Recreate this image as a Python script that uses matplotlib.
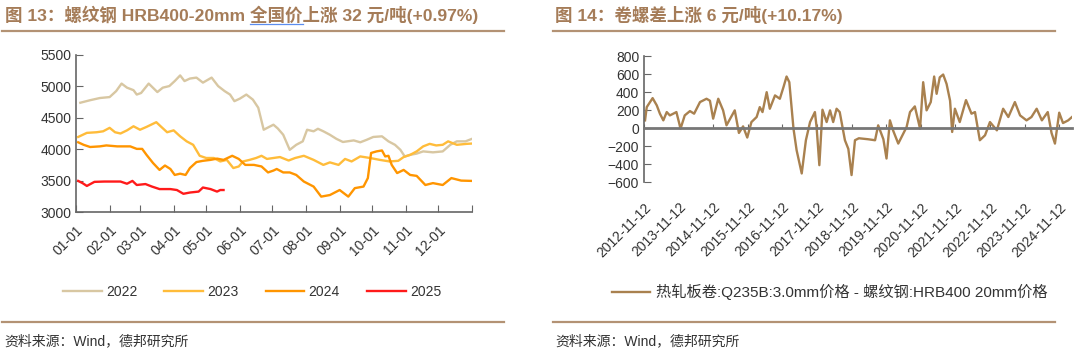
import numpy as np
import pandas as pd
import matplotlib
matplotlib.use('Agg')
import matplotlib.pyplot as plt
from matplotlib.lines import Line2D

plt.rcParams['font.family'] = ['Liberation Sans', 'Noto Sans CJK SC']

# 图13: 螺纹钢价格，按年内第几天
d2022 = [4, 13, 22, 31, 37, 42, 47, 53, 56, 60, 67, 75, 80, 86, 91, 96, 100, 105, 111, 117, 125, 131, 137, 142,
         146, 151, 157, 163, 168, 173, 178, 182, 186, 191, 197, 203, 209, 213, 219, 223, 228, 234, 240, 246, 256,
         262, 268, 274, 282, 288, 294, 299, 303, 308, 314, 320, 329, 338, 345, 351, 359, 365]
v2022 = [4740, 4780, 4815, 4830, 4925, 5045, 4980, 4940, 4870, 4895, 5045, 4910, 4980, 5005, 5085, 5175, 5085, 5125,
         5140, 5060, 5140, 5005, 4925, 4870, 4765, 4805, 4870, 4790, 4660, 4310, 4355, 4390, 4330, 4230, 3990, 4070,
         4125, 4310, 4285, 4325, 4285, 4230, 4165, 4115, 4140, 4110, 4150, 4195, 4205, 4125, 4070, 3990, 3885, 3910,
         3930, 3965, 3950, 3965, 4070, 4125, 4125, 4165]
d2023 = [2, 10, 19, 25, 31, 36, 41, 47, 53, 59, 65, 74, 78, 84, 90, 96, 102, 108, 114, 120, 127, 133, 139, 145, 150,
         154, 160, 166, 171, 176, 182, 188, 196, 202, 210, 219, 228, 234, 242, 248, 254, 262, 271, 280, 289, 297, 302,
         308, 314, 320, 326, 332, 338, 343, 351, 360, 365]
v2023 = [4195, 4260, 4270, 4285, 4340, 4270, 4250, 4300, 4365, 4310, 4355, 4430, 4365, 4270, 4300, 4205, 4125, 4070,
         3895, 3860, 3860, 3805, 3830, 3700, 3725, 3805, 3830, 3860, 3895, 3845, 3860, 3875, 3820, 3860, 3895, 3830,
         3750, 3790, 3750, 3845, 3805, 3885, 3860, 3830, 3805, 3815, 3875, 3910, 3965, 4045, 4085, 4060, 4070, 4125,
         4070, 4085, 4090]
d2024 = [2, 7, 13, 22, 28, 38, 50, 56, 61, 65, 71, 77, 82, 87, 91, 96, 101, 105, 111, 117, 124, 130, 136, 144, 150,
         156, 164, 171, 177, 182, 185, 191, 197, 203, 210, 219, 226, 234, 243, 251, 257, 265, 269, 272, 277, 282, 285,
         288, 291, 296, 302, 308, 314, 322, 329, 338, 346, 355, 365]
v2024 = [4110, 4070, 4035, 4045, 4060, 4045, 4045, 4005, 4005, 3910, 3780, 3670, 3740, 3685, 3590, 3610, 3590, 3700,
         3795, 3815, 3830, 3850, 3830, 3895, 3845, 3750, 3750, 3725, 3630, 3660, 3685, 3630, 3630, 3590, 3485, 3405,
         3245, 3270, 3350, 3245, 3380, 3405, 3540, 3940, 3965, 3980, 3885, 3895, 3750, 3620, 3670, 3590, 3575, 3430,
         3460, 3430, 3540, 3500, 3495]
d2025 = [2, 6, 10, 17, 26, 41, 47, 52, 56, 64, 70, 77, 87, 93, 99, 105, 113, 117, 124, 130, 133, 136]
v2025 = [3495, 3460, 3415, 3480, 3485, 3485, 3450, 3495, 3430, 3445, 3405, 3365, 3365, 3350, 3290, 3310, 3325, 3390,
         3365, 3325, 3350, 3350]
month_ticks = [0, 31, 59, 90, 120, 151, 181, 212, 243, 273, 304, 334, 365]
month_labels = ['01-01', '02-01', '03-01', '04-01', '05-01', '06-01', '07-01', '08-01', '09-01', '10-01', '11-01',
                '12-01', '']

# 图14: 卷螺差
spread_dates = ['2012-11-23', '2012-12-11', '2013-02-11', '2013-03-27', '2013-04-29', '2013-06-04', '2013-07-10',
                '2013-08-12', '2013-09-17', '2013-10-20', '2013-12-03', '2014-01-16', '2014-03-12', '2014-04-25',
                '2014-06-26', '2014-09-03', '2014-10-09', '2014-11-12', '2015-01-05', '2015-02-25', '2015-04-02',
                '2015-06-28', '2015-08-11', '2015-09-24', '2015-11-07', '2015-12-21', '2016-02-14', '2016-03-18',
                '2016-04-16', '2016-05-30', '2016-07-02', '2016-08-26', '2016-10-16', '2016-11-23', '2016-12-26',
                '2017-01-24', '2017-03-09', '2017-04-11', '2017-06-04', '2017-07-18', '2017-08-31', '2017-10-21',
                '2017-11-08', '2017-12-07', '2018-01-09', '2018-02-22', '2018-03-30', '2018-05-02', '2018-06-07',
                '2018-07-10', '2018-09-03', '2018-10-09', '2018-11-12', '2018-12-18', '2019-01-28', '2019-05-06',
                '2019-07-18', '2019-08-20', '2019-10-14', '2019-11-16', '2019-12-22', '2020-01-24', '2020-03-19',
                '2020-06-15', '2020-07-21', '2020-09-10', '2020-11-04', '2020-12-07', '2021-01-12', '2021-02-25',
                '2021-04-02', '2021-04-28', '2021-05-31', '2021-07-06', '2021-08-11', '2021-09-17', '2021-10-09',
                '2021-11-07', '2021-12-28', '2022-03-04', '2022-05-01', '2022-06-07', '2022-07-28', '2022-09-21',
                '2022-11-12', '2023-01-24', '2023-03-31', '2023-05-25', '2023-08-02', '2023-09-26', '2023-12-03',
                '2024-01-24', '2024-03-19', '2024-05-13', '2024-07-14', '2024-08-23', '2024-09-28', '2024-11-12',
                '2024-12-22', '2025-02-15', '2025-03-27']
spread_vals = [85, 232, 332, 251, 159, 85, 177, 140, 159, 177, -7, 140, 188, 159, 288, 325, 303, 104, 325, 196, 30,
               196, -55, 18, -106, 66, 122, 232, 177, 398, 214, 362, 325, 453, 572, 509, -7, -247, -505, -136, 66, 177,
               11, -413, 203, 66, 196, 66, 214, 177, -136, -232, -523, -136, -114, -125, -136, 30, -125, -339, 85, -26,
               -173, 11, 177, 240, -7, 509, 196, 288, 572, 380, 563, 594, 490, 303, -44, 214, 66, 310, 159, 177, -136,
               -81, 66, -26, 214, 122, 288, 140, 85, 122, 214, 85, 177, -55, -173, 170, 55, 85, 122]
year_ticks = ['2012-11-12', '2013-11-12', '2014-11-12', '2015-11-12', '2016-11-12', '2017-11-12', '2018-11-12',
              '2019-11-12', '2020-11-12', '2021-11-12', '2022-11-12', '2023-11-12', '2024-11-12']

W, H = 1080, 358
fig = plt.figure(figsize=(W / 100, H / 100), dpi=100)

title_c = '#A57C58'
rule_c = '#B39274'
axis_c = '#666666'
txt_c = '#333333'


def fx(px):
    return px / W


def fy(py):
    return 1 - py / H


# ---- 左图
ax1 = fig.add_axes([fx(76), fy(212), fx(472) - fx(76), fy(55) - fy(212)])
ax1.plot(d2022, v2022, color='#D8C7A2', lw=1.7, label='2022')
ax1.plot(d2023, v2023, color='#FFBC3A', lw=1.7, label='2023')
ax1.plot(d2024, v2024, color='#FF9500', lw=1.7, label='2024')
ax1.plot(d2025, v2025, color='#FF1A1A', lw=1.7, label='2025')
ax1.set_xlim(0, 365)
ax1.set_ylim(3000, 5500)
ax1.set_yticks(range(3000, 5501, 500))
ax1.set_xticks(month_ticks)
ax1.set_xticklabels(month_labels)
for s in ['top', 'right']:
    ax1.spines[s].set_visible(False)
for s in ['left', 'bottom']:
    ax1.spines[s].set_color(axis_c)
    ax1.spines[s].set_linewidth(1.2)
ax1.tick_params(direction='in', length=5, color=axis_c, labelsize=10, labelcolor=txt_c)
ax1.tick_params(axis='x', pad=8)
for lab in ax1.get_xticklabels():
    lab.set_rotation(45)
    lab.set_ha('right')
    lab.set_va('top')
    lab.set_rotation_mode('anchor')

fig.legend(handles=ax1.get_lines(), loc='center', bbox_to_anchor=(fx(252), fy(292)), ncol=4, frameon=False,
           fontsize=10, handlelength=2.8, handletextpad=0.3, columnspacing=1.95, labelcolor=txt_c)

# ---- 右图
ax2 = fig.add_axes([fx(644), fy(182), fx(1072) - fx(644), fy(56) - fy(182)])
ax2.plot(pd.to_datetime(spread_dates), spread_vals, color='#A9814F', lw=1.7,
         label='热轧板卷:Q235B:3.0mm价格 - 螺纹钢:HRB400 20mm价格')
ax2.set_xlim(pd.Timestamp('2012-11-12'), pd.Timestamp('2025-03-27'))
ax2.set_ylim(-600, 800)
ax2.set_yticks(range(-600, 801, 200))
ax2.set_xticks(pd.to_datetime(year_ticks))
ax2.set_xticklabels(year_ticks)
for s in ['top', 'right']:
    ax2.spines[s].set_visible(False)
ax2.spines['bottom'].set_position(('data', 0))
ax2.spines['bottom'].set_color('#777777')
ax2.spines['bottom'].set_linewidth(2)
ax2.spines['left'].set_color(axis_c)
ax2.spines['left'].set_linewidth(1.2)
ax2.tick_params(direction='in', length=5, color=axis_c, labelsize=10, labelcolor=txt_c)
ax2.tick_params(axis='x', length=3, pad=52)
for lab in ax2.get_xticklabels():
    lab.set_rotation(45)
    lab.set_ha('right')
    lab.set_va('top')
    lab.set_rotation_mode('anchor')

fig.legend(handles=ax2.get_lines(), loc='center', bbox_to_anchor=(fx(830), fy(292)), frameon=False,
           fontsize=11, handlelength=2.5, handletextpad=0.4, labelcolor=txt_c)

# ---- 标题、分隔线、来源
title_fs = 12.6
fig.text(fx(5), fy(15), '图 13：螺纹钢 HRB400-20mm 全国价上涨 32 元/吨(+0.97%)', fontsize=title_fs,
         fontweight='bold', color=title_c, va='center', ha='left')
fig.text(fx(555), fy(15), '图 14：卷螺差上涨 6 元/吨(+10.17%)', fontsize=title_fs, fontweight='bold', color=title_c,
         va='center', ha='left')
for x0, x1 in [(2, 504), (553, 1055)]:
    for yy in (31, 322):
        fig.add_artist(Line2D([fx(x0), fx(x1)], [fy(yy), fy(yy)], color=rule_c, lw=1.6, transform=fig.transFigure))
fig.text(fx(4), fy(341), '资料来源：Wind，德邦研究所', fontsize=10, color=txt_c, va='center', ha='left')
fig.text(fx(555), fy(341), '资料来源：Wind，德邦研究所', fontsize=10, color=txt_c, va='center', ha='left')

# 标题中“全国价”下方的蓝色下划线
fig.canvas.draw()
r = fig.canvas.get_renderer()
pre = fig.text(fx(5), fy(15), '图 13：螺纹钢 HRB400-20mm ', fontsize=title_fs, fontweight='bold', va='center',
               ha='left', alpha=0)
mid = fig.text(fx(5), fy(15), '图 13：螺纹钢 HRB400-20mm 全国价', fontsize=title_fs, fontweight='bold',
               va='center', ha='left', alpha=0)
b0 = pre.get_window_extent(r)
b1 = mid.get_window_extent(r)
fig.add_artist(Line2D([b0.x1 / W, b1.x1 / W], [fy(23.5), fy(23.5)], color='#5B8DEF', lw=0.9,
                      transform=fig.transFigure))

fig.savefig('out.png', dpi=100)
